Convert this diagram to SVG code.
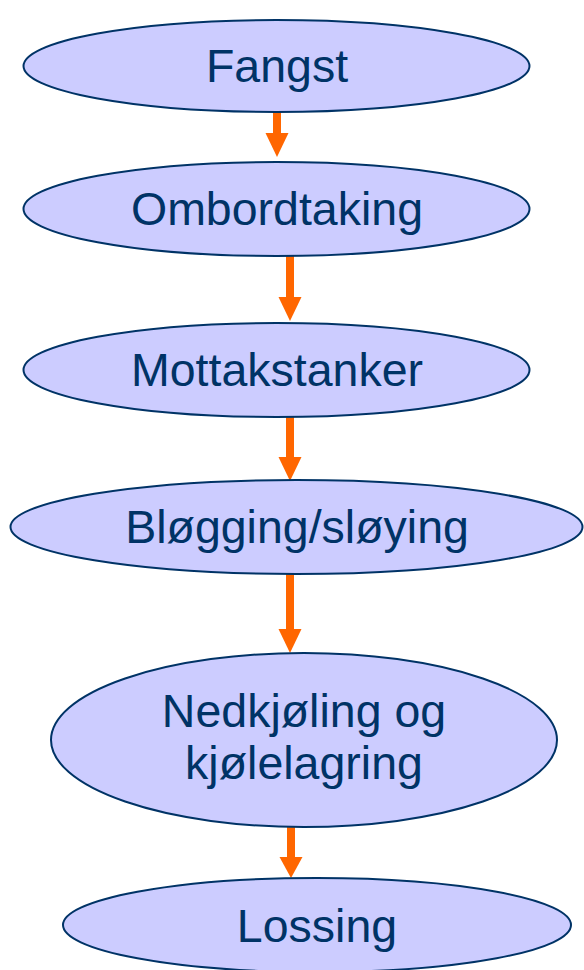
<svg xmlns="http://www.w3.org/2000/svg" width="584" height="970" viewBox="0 0 584 970">
<style>
.n{fill:#CCCCFF;stroke:#003366;stroke-width:2}
.t{font-family:"Liberation Sans",Arial,sans-serif;font-size:46.5px;fill:#003366;text-anchor:middle}
.c{stroke:#FF6600;stroke-width:8;fill:none}
.h{fill:#FF6600}
</style>
<rect width="584" height="970" fill="#FFFFFF"/>
<g id="connectors">
<line class="c" x1="277" y1="112" x2="277" y2="134"/><polygon class="h" points="265.5,133 288.5,133 277,157"/>
<line class="c" x1="290" y1="256" x2="290" y2="298"/><polygon class="h" points="278.5,297 301.5,297 290,321"/>
<line class="c" x1="290" y1="417" x2="290" y2="458"/><polygon class="h" points="278.5,457 301.5,457 290,481"/>
<line class="c" x1="290" y1="574" x2="290" y2="630"/><polygon class="h" points="278.5,629 301.5,629 290,653"/>
<line class="c" x1="291" y1="827" x2="291" y2="858"/><polygon class="h" points="279.5,857 302.5,857 291,878"/>
</g>
<g id="fangst"><ellipse class="n" cx="276.5" cy="66" rx="253" ry="46"/><text class="t" x="277" y="82">Fangst</text></g>
<g id="ombordtaking"><ellipse class="n" cx="276.5" cy="209" rx="253" ry="47"/><text class="t" x="277" y="225">Ombordtaking</text></g>
<g id="mottakstanker"><ellipse class="n" cx="276.5" cy="370" rx="253" ry="47"/><text class="t" x="277" y="386">Mottakstanker</text></g>
<g id="blogging"><ellipse class="n" cx="296.5" cy="527" rx="286" ry="47"/><text class="t" x="297" y="543">Bløgging/sløying</text></g>
<g id="nedkjoling"><ellipse class="n" cx="304" cy="740" rx="253" ry="87"/><text class="t" x="304" y="727">Nedkjøling og</text><text class="t" x="304" y="779">kjølelagring</text></g>
<g id="lossing"><ellipse class="n" cx="317" cy="925" rx="254" ry="47"/><text class="t" x="317" y="942">Lossing</text></g>
</svg>
